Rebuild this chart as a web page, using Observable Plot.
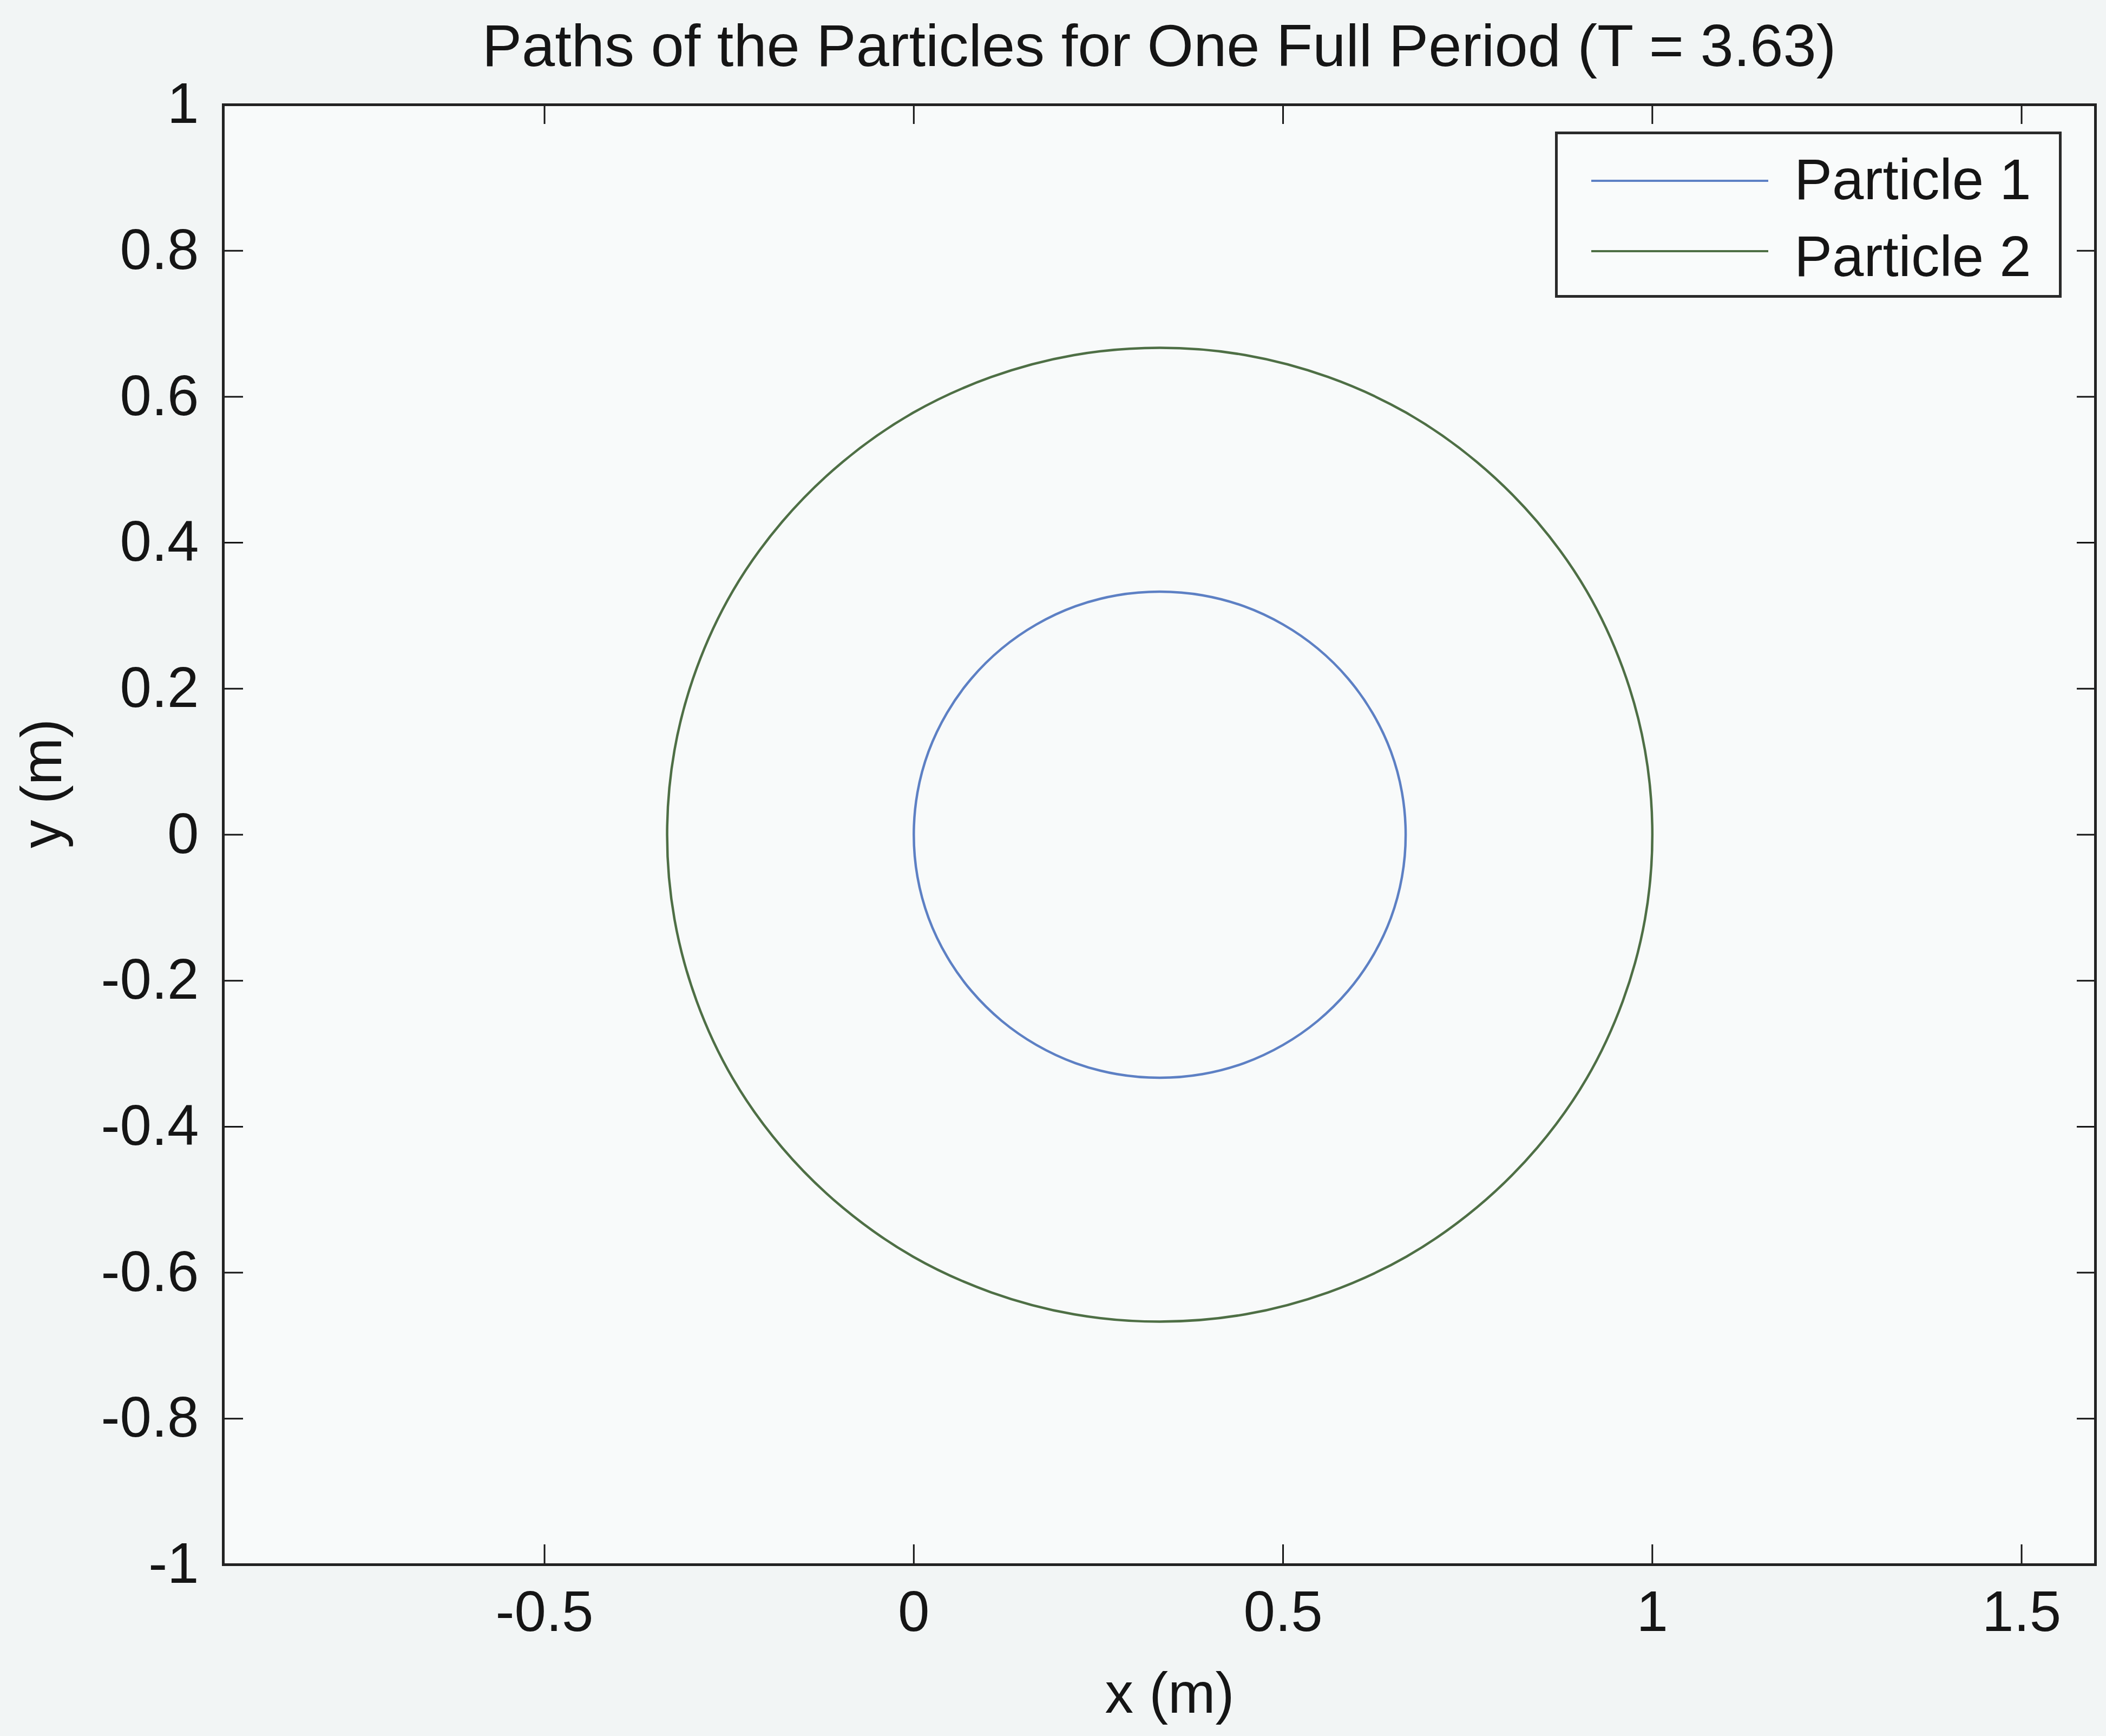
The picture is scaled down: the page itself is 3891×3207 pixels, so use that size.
<!DOCTYPE html>
<html>
<head>
<meta charset="utf-8">
<script src="https://cdn.jsdelivr.net/npm/d3@7"></script>
<script src="https://cdn.jsdelivr.net/npm/@observablehq/plot@0.6"></script>
<style>
  html, body { margin: 0; padding: 0; background: #f2f5f5; }
  body { width: 3891px; height: 3207px; position: relative; overflow: hidden;
         font-family: "Liberation Sans", Arial, Helvetica, sans-serif; color: #151515; }
  #chart { position: absolute; left: 0; top: 0; }
  #chart svg { overflow: visible; }
  #title { position: absolute; left: 412px; width: 3459px; top: 0; height: 150px;
           box-sizing: border-box; padding-top: 29px; text-align: center;
           font-size: 110px; line-height: 110px; white-space: nowrap; }
  #legend { position: absolute; left: 2873px; top: 243px; width: 936px; height: 307px;
            box-sizing: border-box; border: 5px solid #2a2a2a; background: #f9fbfb; }
  .lg-line { position: absolute; left: 62px; width: 327px; height: 0; border-top: 4px solid; }
  .lg-text { position: absolute; left: 437px; font-size: 105px; line-height: 105px; white-space: nowrap; }
</style>
</head>
<body>
<div id="chart"></div>
<div id="title">Paths of the Particles for One Full Period (T = 3.63)</div>
<div id="legend"></div>
<script>
// ---- data ----
const seriesNames = ["Particle 1", "Particle 2"];

const particle1X = [0.666, 0.661, 0.646, 0.621, 0.588, 0.547, 0.500, 0.447, 0.391,
                    0.333, 0.275, 0.219, 0.166, 0.119, 0.078, 0.045, 0.020, 0.005,
                    0.000, 0.005, 0.020, 0.045, 0.078, 0.119, 0.166, 0.219, 0.275,
                    0.333, 0.391, 0.447, 0.500, 0.547, 0.588, 0.621, 0.646, 0.661];
const particle1Y = [0.000, 0.058, 0.114, 0.167, 0.214, 0.255, 0.288, 0.313, 0.328,
                    0.333, 0.328, 0.313, 0.288, 0.255, 0.214, 0.167, 0.114, 0.058,
                    0.000, -0.058, -0.114, -0.167, -0.214, -0.255, -0.288, -0.313, -0.328,
                    -0.333, -0.328, -0.313, -0.288, -0.255, -0.214, -0.167, -0.114, -0.058];

const particle2X = [1.000, 0.990, 0.960, 0.911, 0.844, 0.762, 0.667, 0.561, 0.449,
                    0.333, 0.217, 0.105, -0.001, -0.096, -0.178, -0.245, -0.294, -0.324,
                    -0.334, -0.324, -0.294, -0.245, -0.178, -0.096, -0.001, 0.105, 0.217,
                    0.333, 0.449, 0.561, 0.667, 0.762, 0.844, 0.911, 0.960, 0.990];
const particle2Y = [0.000, 0.116, 0.228, 0.334, 0.429, 0.511, 0.578, 0.627, 0.657,
                    0.667, 0.657, 0.627, 0.578, 0.511, 0.429, 0.334, 0.228, 0.116,
                    0.000, -0.116, -0.228, -0.334, -0.429, -0.511, -0.578, -0.627, -0.657,
                    -0.667, -0.657, -0.627, -0.578, -0.511, -0.429, -0.334, -0.228, -0.116];

const xTicks = [-0.5, 0, 0.5, 1, 1.5];
const xTickLabels = ["-0.5", "0", "0.5", "1", "1.5"];
const yTicks = [1, 0.8, 0.6, 0.4, 0.2, 0, -0.2, -0.4, -0.6, -0.8, -1];
const yTickLabels = ["1", "0.8", "0.6", "0.4", "0.2", "0", "-0.2", "-0.4", "-0.6", "-0.8", "-1"];
const xDomain = [-0.935, 1.60];
const yDomain = [-1, 1];

// ---- build table ----
const rows = [
  ...particle1X.map((x, i) => ({series: seriesNames[0], x, y: particle1Y[i]})),
  ...particle2X.map((x, i) => ({series: seriesNames[1], x, y: particle2Y[i]}))
];

const colors = ["#5d80c4", "#4e6f45"];
const FONT = `"Liberation Sans", Arial, Helvetica, sans-serif`;
const FS = 105;
const xLab = d => xTickLabels[xTicks.indexOf(d)];
const yLab = d => yTickLabels[yTicks.indexOf(d)];

const chart = Plot.plot({
  width: 3891,
  height: 3207,
  marginTop: 193,
  marginBottom: 317,
  marginLeft: 412,
  marginRight: 20,
  x: {domain: xDomain},
  y: {domain: yDomain},
  color: {domain: seriesNames, range: colors},
  style: {background: "transparent", fontFamily: FONT, fontSize: FS + "px", color: "#151515"},
  marks: [
    Plot.frame({fill: "#f8fafa", stroke: null}),
    Plot.line(rows, {x: "x", y: "y", z: "series", stroke: "series", strokeWidth: 4.5, curve: "catmull-rom-closed"}),
    Plot.axisX({anchor: "bottom", ticks: xTicks, tickFormat: xLab, tickSize: -37, tickPadding: 85,
                strokeWidth: 3, label: null, fontSize: FS, fill: "#151515"}),
    Plot.axisX({anchor: "top", ticks: xTicks, tickFormat: () => "", tickSize: -35, tickPadding: 0,
                strokeWidth: 3, label: null}),
    Plot.axisY({anchor: "left", ticks: yTicks, tickFormat: yLab, tickSize: -37, tickPadding: 82,
                strokeWidth: 3, label: null, fontSize: FS, fill: "#151515"}),
    Plot.axisY({anchor: "right", ticks: yTicks, tickFormat: () => "", tickSize: -35, tickPadding: 0,
                strokeWidth: 3, label: null}),
    Plot.text(["x (m)"], {text: d => d, frameAnchor: "bottom", dy: 240, dx: 19, fontSize: FS,
                         lineAnchor: "middle", fill: "#151515"}),
    Plot.text(["y (m)"], {text: d => d, frameAnchor: "left", dx: -333, dy: 25, rotate: -90,
                         fontSize: FS, lineAnchor: "middle", fill: "#151515"}),
    Plot.frame({stroke: "#222", strokeWidth: 5})
  ]
});
document.getElementById("chart").appendChild(chart);

// ---- legend ----
const legend = document.getElementById("legend");
const lineTops = [84, 214];
const textTops = [31, 173];
seriesNames.forEach((name, i) => {
  const ln = document.createElement("div");
  ln.className = "lg-line";
  ln.style.top = lineTops[i] + "px";
  ln.style.borderTopColor = colors[i];
  legend.appendChild(ln);
  const tx = document.createElement("div");
  tx.className = "lg-text";
  tx.style.top = textTops[i] + "px";
  tx.textContent = name;
  legend.appendChild(tx);
});
</script>
</body>
</html>
